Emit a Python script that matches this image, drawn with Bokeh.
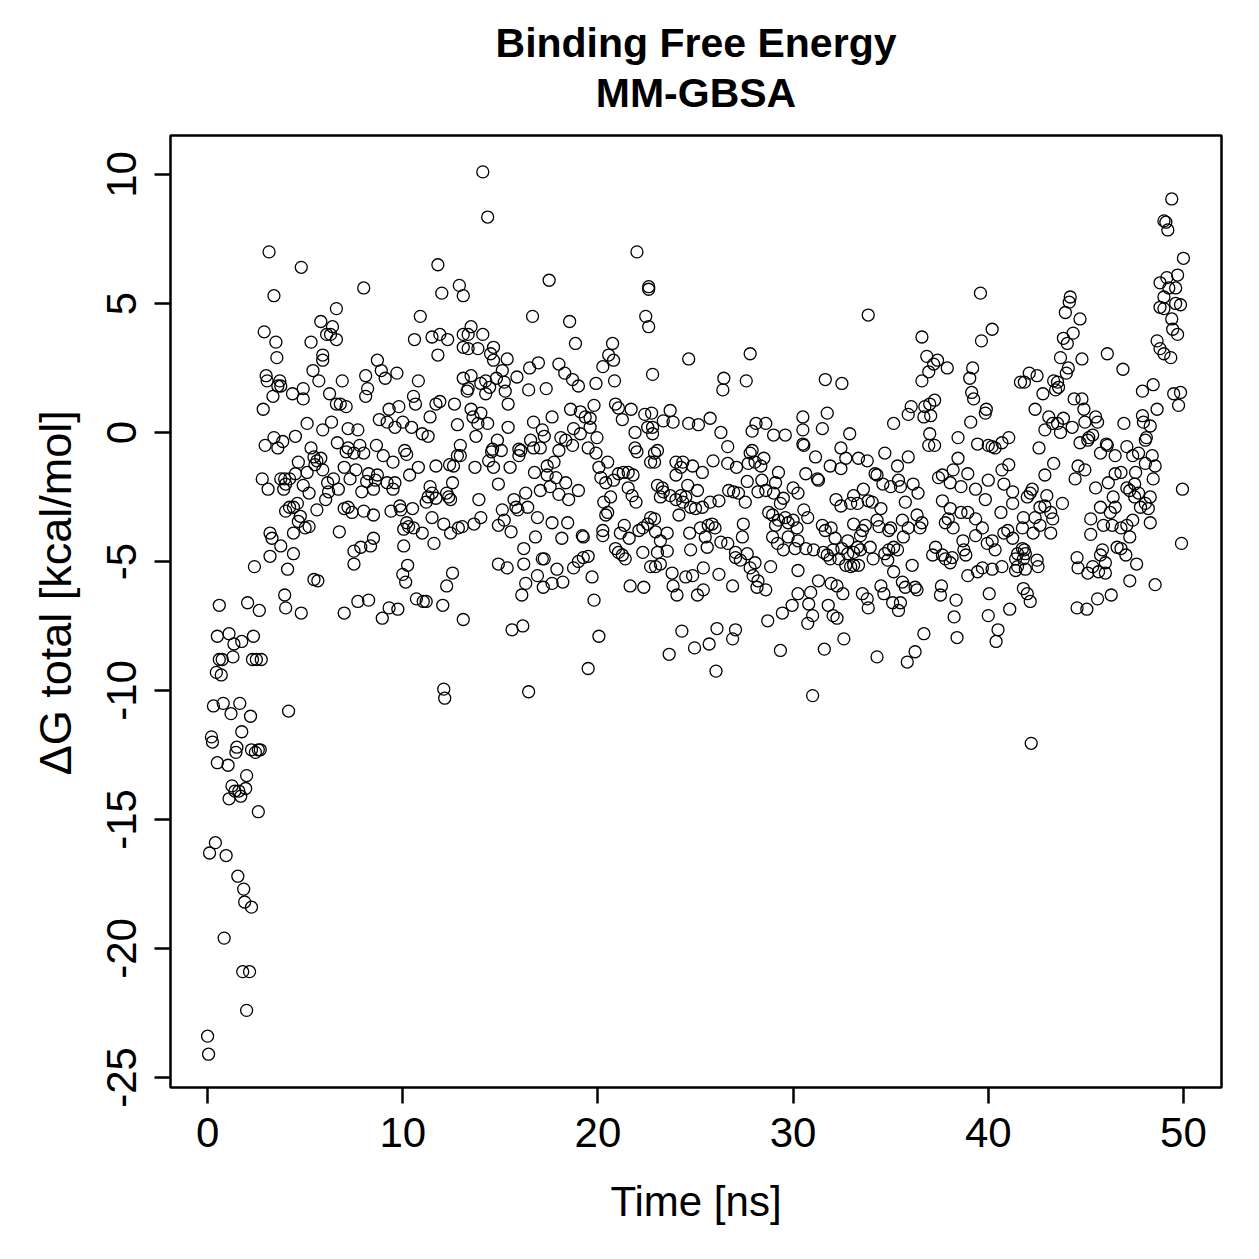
from bokeh.plotting import figure
from bokeh.models import FixedTicker, Title
from bokeh.embed import file_html
from bokeh.resources import INLINE

# MM-GBSA binding free energy per frame: time (ns) and total dG (kcal/mol),
# stored in blocks by time window / energy band.

# equilibration phase, 0 - 3.75 ns
t_start = [0.0, 0.05, 0.1, 0.2, 0.25, 0.3, 0.4, 0.45, 0.5, 0.5,
           0.6, 0.6, 0.7, 0.75, 0.8, 0.85, 0.95, 1.05, 1.1, 1.1,
           1.2, 1.25, 1.3, 1.35, 1.4, 1.45, 1.5, 1.55, 1.6, 1.65,
           1.7, 1.75, 1.75, 1.8, 1.85, 1.9, 1.95, 2.0, 2.0, 2.05,
           2.15, 2.2, 2.25, 2.25, 2.3, 2.35, 2.4, 2.45, 2.5, 2.6,
           2.6, 2.65, 2.7, 2.75, 2.8, 2.85, 2.9, 2.95, 3.0, 3.05,
           3.1, 3.15, 3.2, 3.2, 3.3, 3.35, 3.4, 3.4, 3.5, 3.55,
           3.6, 3.6, 3.7, 3.75]
g_start = [-23.4, -24.1, -16.3, -11.8, -12.0, -10.6, -15.9, -9.3, -12.8, -7.9,
           -6.7, -8.8, -9.4, -8.8, -10.5, -19.6, -16.4, -12.9, -14.2, -7.8,
           -10.9, -13.7, -8.7, -8.2, -13.9, -12.4, -12.2, -17.2, -13.9, -10.5,
           -14.1, -11.6, -8.1, -20.9, -17.7, -18.2, -13.8, -22.4, -13.3, -6.6,
           -20.9, -11.0, -18.4, -12.3, -8.8, -7.9, -5.2, -12.4, -8.8, -14.7,
           -12.3, -6.9, -12.3, -8.8, -1.8, 0.9, 3.9, -0.5, 2.2, 2.0,
           -2.2, 7.0, -3.9, -4.8, -4.1, 1.4, 5.3, -0.2, 3.5, 2.9,
           -0.6, 1.8, 2.0, 1.8]

# 4 - 13 ns, upper band
t_a = [4.8, 11.8, 8.0, 12.0, 12.9, 13.1, 6.6, 5.8, 6.4, 10.9,
       6.1, 6.3, 6.6, 5.3, 10.6, 11.5, 11.9, 12.3, 13.1, 13.1,
       11.8, 5.9, 5.9, 5.4, 8.7, 8.9, 9.1, 9.7, 5.7, 6.9,
       8.1, 8.2, 8.1, 10.8, 13.1, 4.35, 4.9, 4.9, 6.25, 6.6,
       6.8, 7.1, 9.3, 9.8, 10.55, 10.65, 11.7, 11.9, 12.65, 13.3,
       5.1, 6.35, 5.9, 7.2, 7.7, 8.8, 9.2, 9.6, 10.0, 10.45,
       11.4, 11.0, 11.3, 12.8, 4.5, 3.85, 5.3, 6.65, 7.2, 7.8,
       8.65, 10.1, 12.95]
g_a = [6.4, 6.5, 5.6, 5.4, 5.7, 5.3, 4.8, 4.3, 4.1, 4.5,
       3.8, 3.8, 3.6, 3.5, 3.6, 3.7, 3.8, 3.6, 3.8, 3.3,
       3.0, 3.0, 2.8, 2.4, 2.8, 2.4, 2.1, 2.3, 2.0, 2.0,
       2.2, 1.7, 1.4, 2.0, 2.1, 1.5, 1.7, 1.3, 1.5, 1.1,
       1.1, 1.0, 0.9, 1.0, 1.4, 1.1, 1.1, 1.2, 1.1, 1.6,
       0.35, 0.4, 0.1, 0.15, 0.1, 0.5, 0.4, 0.2, 0.4, 0.2,
       0.6, -0.05, -0.15, 0.3, -0.15, -0.35, -0.6, -0.4, -0.6, -0.5,
       -0.5, -0.7, -0.5]

# 4 - 13 ns, lower band
t_b = [7.1, 7.5, 8.0, 9.0, 9.5, 10.2, 10.8, 11.7, 12.4, 12.6,
       12.8, 12.95, 4.65, 5.45, 5.6, 5.8, 5.5, 5.1, 5.9, 7.0,
       7.6, 8.25, 8.7, 10.35, 3.75, 3.95, 4.2, 4.5, 3.9, 4.0,
       4.9, 5.2, 6.15, 6.2, 6.45, 6.7, 7.3, 7.9, 8.15, 8.5,
       8.6, 9.2, 9.5, 9.6, 11.4, 11.5, 11.3, 11.2, 12.25, 12.35,
       12.45, 12.55, 11.7, 6.05, 5.6, 4.6, 4.4, 4.2, 4.0, 7.0,
       7.2, 7.4, 8.0, 8.5, 9.4, 9.85, 9.9, 10.5, 11.5, 4.75,
       4.65, 4.4, 5.0, 5.2, 6.75, 10.2, 10.3, 10.05, 10.55, 11.0,
       12.1, 12.45, 12.85, 13.05, 3.75, 4.4, 4.1, 7.5, 7.85, 8.35,
       8.5, 7.5, 10.05, 11.6, 10.25, 10.0, 10.15, 12.55, 12.25, 5.45,
       5.65, 3.95, 4.0, 4.8, 7.0, 7.7, 8.25, 8.95, 9.3, 9.75,
       10.7, 11.05, 11.2, 12.05, 13.1, 4.15, 12.1, 12.15]
g_b = [-0.75, -0.8, -0.8, -0.9, -1.15, -0.85, -1.35, -1.3, -1.25, -1.3,
       -0.9, -0.9, -1.15, -0.95, -1.1, -1.0, -1.25, -1.55, -1.45, -1.35,
       -1.45, -1.6, -1.65, -1.65, -1.8, -1.8, -1.8, -1.6, -2.2, -2.0,
       -2.05, -2.35, -1.95, -2.3, -1.8, -2.2, -1.8, -2.3, -1.9, -2.2,
       -1.85, -1.95, -2.2, -1.95, -2.1, -2.35, -2.5, -2.7, -2.35, -2.5,
       -2.6, -1.95, -2.55, -2.6, -3.0, -2.75, -2.9, -2.9, -3.05, -2.95,
       -2.9, -3.1, -3.05, -3.2, -3.05, -2.85, -3.0, -2.95, -3.3, -3.25,
       -3.45, -3.9, -3.7, -3.65, -3.85, -3.5, -3.65, -3.75, -3.7, -3.9,
       -3.55, -3.9, -3.7, -3.65, -4.4, -4.7, -5.3, -4.6, -4.45, -4.4,
       -4.1, -5.1, -4.4, -4.3, -5.15, -5.5, -5.8, -5.45, -5.95, -5.7,
       -5.75, -6.3, -6.8, -7.0, -7.0, -6.55, -6.5, -7.2, -6.8, -6.85,
       -6.45, -6.55, -6.55, -6.7, -7.25, -10.8, -9.95, -10.3]

# 13 - 23 ns, upper band
t_c = [14.1, 14.35, 22.0, 17.5, 22.6, 22.6, 16.65, 18.55, 22.45, 22.6,
       18.85, 20.75, 20.55, 20.8, 20.25, 20.85, 13.5, 14.1, 13.35, 13.35,
       13.85, 14.65, 14.5, 14.65, 15.35, 15.1, 15.85, 16.5, 16.95, 18.0,
       18.3, 18.7, 19.0, 19.9, 13.5, 13.35, 14.0, 14.25, 14.45, 14.25,
       14.8, 15.2, 15.25, 16.45, 17.35, 15.4, 13.5, 14.0, 13.6, 13.85,
       14.35, 13.75, 15.4, 16.7, 17.15, 17.65, 17.25, 18.6, 19.1, 19.35,
       19.6, 19.8, 18.75, 19.1, 19.6, 19.95, 20.9, 21.05, 21.25, 21.7,
       22.4, 21.9, 22.55, 14.85, 16.55, 18.1, 18.35, 18.7, 14.6, 15.95,
       17.05, 19.5, 21.9]
g_c = [10.1, 8.35, 7.0, 5.9, 5.65, 5.55, 4.5, 4.3, 4.5, 4.1,
       3.45, 3.45, 3.0, 2.8, 2.55, 2.0, 4.1, 3.8, 3.8, 3.25,
       3.25, 3.3, 3.05, 2.8, 2.85, 2.4, 2.15, 2.5, 2.7, 2.65,
       2.3, 2.05, 1.8, 1.9, 2.2, 1.7, 1.9, 2.0, 1.75, 1.5,
       2.1, 1.95, 1.6, 1.65, 1.7, 1.1, 0.9, 0.75, 0.6, 0.35,
       0.35, -0.15, 0.2, 0.4, 0.1, 0.6, -0.15, 0.9, 0.8, 0.6,
       0.55, 1.05, 0.15, -0.05, 0.2, -0.2, 1.1, 0.95, 0.5, 0.9,
       0.7, 0.0, 0.2, -0.3, -0.3, -0.2, -0.3, -0.5, -0.65, -0.65,
       -0.6, -0.6, -0.6]

# 13 - 23 ns, lower band
t_d = [16.05, 15.95, 16.7, 18.0, 19.9, 22.0, 22.7, 14.55, 14.4, 14.65,
       13.7, 15.5, 14.9, 15.05, 16.75, 17.4, 17.75, 17.4, 17.85, 18.35,
       19.0, 18.5, 18.0, 17.55, 17.05, 20.05, 20.5, 20.15, 20.4, 20.8,
       21.05, 21.3, 21.55, 21.8, 21.55, 21.75, 21.95, 20.65, 20.3, 20.5,
       20.4, 13.9, 15.1, 15.7, 15.8, 15.9, 16.3, 16.4, 16.9, 17.65,
       18.45, 14.0, 13.65, 14.9, 15.2, 15.55, 16.8, 18.15, 19.2, 19.25,
       20.25, 20.25, 21.15, 21.35, 21.6, 22.1, 22.3, 22.55, 22.7, 16.2,
       14.9, 15.35, 16.2, 17.15, 17.25, 17.9, 16.9, 16.3, 17.2, 17.65,
       18.2, 16.1, 18.75, 19.0, 19.25, 19.5, 19.7, 19.8, 20.9, 21.05,
       21.25, 21.4, 22.3, 22.7, 21.65, 22.35, 15.6, 16.15, 20.05, 19.5,
       16.45]
g_d = [-0.7, -0.9, -0.6, -0.7, -0.8, -0.75, -1.15, -0.75, -1.1, -1.35,
       -1.35, -1.35, -2.0, -0.7, -1.55, -1.3, -1.15, -1.65, -1.75, -1.95,
       -2.25, -2.6, -2.4, -2.1, -2.25, -1.35, -1.15, -1.75, -1.95, -1.85,
       -1.6, -1.55, -1.55, -1.65, -2.15, -2.45, -2.7, -2.5, -2.7, -3.1,
       -3.2, -2.6, -3.0, -2.6, -2.9, -3.0, -2.35, -2.9, -3.3, -3.5,
       -3.5, -3.3, -3.55, -3.6, -3.4, -3.85, -4.05, -4.1, -4.0, -4.05,
       -3.8, -4.0, -3.9, -3.6, -4.1, -3.8, -3.7, -3.55, -3.3, -4.5,
       -5.1, -5.25, -5.1, -4.9, -4.9, -5.3, -5.55, -5.85, -6.0, -5.85,
       -5.8, -6.3, -5.25, -5.0, -4.85, -4.8, -5.6, -6.5, -4.5, -4.65,
       -4.75, -4.9, -4.65, -5.2, -5.95, -6.0, -7.65, -7.5, -7.9, -9.15,
       -10.05]

# 22.5 - 32 ns, upper band
t_e = [24.65, 27.8, 26.45, 26.4, 27.6, 31.65, 22.8, 23.7, 23.35, 23.85,
       24.65, 25.15, 25.75, 26.3, 27.9, 28.1, 28.6, 29.0, 29.6, 30.5,
       30.5, 30.5, 31.5, 31.75, 22.75, 22.8, 22.8, 23.05, 26.65, 27.9]
g_e = [2.85, 3.05, 2.1, 1.65, 2.0, 2.05, 2.25, 0.85, 0.45, 0.4,
       0.35, 0.3, 0.55, 0.0, 0.05, 0.35, 0.35, -0.1, -0.1, 0.6,
       0.1, -0.45, 0.15, 0.75, 0.75, 0.2, -0.05, -0.7, -0.55, -0.7]

# 22.5 - 32 ns, lower band
t_f = [22.9, 22.9, 24.0, 24.35, 24.25, 24.0, 24.85, 25.35, 25.9, 26.65,
       27.1, 27.7, 27.8, 28.05, 28.35, 28.5, 27.65, 28.4, 28.2, 28.6,
       29.1, 29.25, 29.0, 29.5, 29.35, 30.0, 30.25, 30.65, 31.15, 31.25,
       31.3, 30.55, 31.9, 23.05, 23.3, 23.35, 23.2, 23.7, 24.0, 24.25,
       24.5, 24.35, 24.6, 25.1, 24.75, 25.0, 25.35, 25.75, 26.2, 26.7,
       26.95, 27.2, 27.55, 22.9, 22.95, 23.55, 23.2, 23.05, 23.55, 23.2,
       22.95, 24.15, 24.7, 25.25, 25.65, 25.85, 26.0, 25.5, 25.6, 24.75,
       26.3, 26.65, 27.05, 27.45, 27.4, 27.05, 27.3, 27.65, 28.05, 28.75,
       28.95, 29.1, 29.25, 29.6, 29.75, 30.0, 30.2, 30.75, 30.55, 31.5,
       31.65, 28.95, 29.2, 29.5, 29.75, 30.25, 30.1, 30.65, 31.05, 31.55,
       31.75, 31.9, 32.05, 32.15, 31.95, 23.8, 23.85, 24.05, 24.5, 24.85,
       25.4, 25.4, 25.1, 26.2, 26.9, 27.8, 27.95, 28.2, 28.6, 28.15,
       28.85, 30.25, 31.3, 31.95, 30.9, 30.25, 30.8, 29.95, 29.45, 28.7,
       31.0, 30.75, 31.8, 32.05, 24.3, 23.65, 24.95, 25.7, 26.1, 27.05,
       26.9, 26.05, 29.35, 31.6, 31.0]
g_f = [-0.8, -1.15, -1.15, -1.15, -1.35, -1.65, -1.3, -1.55, -1.1, -1.2,
       -1.35, -1.2, -0.8, -1.15, -1.3, -1.0, -1.9, -1.85, -2.3, -2.25,
       -1.95, -1.55, -2.35, -2.55, -2.75, -2.15, -2.35, -1.6, -0.95, -1.8,
       -1.85, -0.5, -1.3, -2.05, -2.15, -2.3, -2.5, -2.45, -2.6, -2.45,
       -2.5, -2.7, -2.05, -2.25, -2.9, -2.95, -2.9, -2.7, -2.65, -2.25,
       -2.3, -2.35, -2.7, -3.35, -3.85, -3.9, -4.2, -4.65, -4.6, -5.1,
       -5.2, -3.2, -3.9, -3.7, -3.6, -3.55, -3.7, -4.05, -4.45, -4.55,
       -4.25, -4.3, -4.65, -3.55, -4.05, -4.85, -4.95, -4.7, -5.05, -3.1,
       -3.2, -3.6, -3.4, -3.3, -3.5, -3.4, -3.7, -3.3, -3.0, -3.6,
       -3.8, -4.05, -4.3, -4.55, -4.05, -4.2, -4.5, -4.5, -4.55, -4.65,
       -4.75, -4.9, -4.55, -4.1, -3.7, -5.45, -5.95, -6.3, -5.6, -5.55,
       -5.25, -6.1, -6.3, -5.5, -5.95, -5.25, -5.55, -5.75, -6.1, -6.0,
       -5.2, -5.35, -5.75, -5.85, -6.2, -6.25, -6.65, -6.7, -7.0, -7.3,
       -7.1, -7.4, -6.7, -7.1, -7.7, -8.6, -8.35, -8.2, -7.6, -7.65,
       -8.0, -9.25, -8.45, -8.4, -10.2]

# 32 - 41.7 ns, upper band
t_g = [39.6, 33.85, 36.6, 40.2, 39.65, 36.85, 37.4, 37.2, 36.95, 37.9,
       36.6, 39.2, 39.05, 39.15, 39.25, 41.65, 32.5, 36.05, 35.9, 36.75,
       37.0, 37.25, 36.7, 37.05, 35.15, 32.9, 39.9, 39.85, 39.1, 38.45,
       37.0, 36.95, 37.25, 39.45, 40.0, 40.2, 40.7, 41.05, 32.45, 34.7]
g_g = [5.4, 4.55, 3.7, 4.0, 3.55, 2.95, 2.8, 2.65, 2.35, 2.5,
       2.0, 2.5, 2.1, 1.55, 1.3, 1.95, 1.9, 1.0, 0.7, 1.0,
       1.1, 1.25, 0.6, 0.65, 0.35, -0.05, 0.9, 0.75, 0.4, -0.2,
       -0.05, -0.5, -0.5, -0.45, -0.5, -0.55, -0.4, -0.2, -0.6, -0.8]

# 32 - 41.7 ns, lower band
t_h = [32.7, 32.45, 33.35, 33.8, 35.35, 35.9, 38.45, 38.2, 38.95, 37.45,
       37.65, 38.05, 38.6, 39.35, 40.0, 40.8, 40.7, 41.05, 39.85, 41.25,
       41.25, 40.65, 40.35, 32.45, 32.2, 33.1, 32.95, 33.3, 33.6, 33.85,
       34.05, 34.2, 34.3, 34.6, 34.5, 35.0, 35.4, 35.5, 35.75, 36.15,
       36.4, 36.35, 36.6, 36.5, 35.6, 35.9, 35.65, 35.0, 34.9, 34.3,
       34.4, 33.7, 33.55, 33.45, 33.1, 32.8, 32.5, 32.8, 33.1, 33.3,
       33.45, 32.35, 32.7, 32.95, 33.1, 33.35, 33.95, 34.1, 34.7, 34.9,
       34.85, 35.15, 35.35, 35.15, 36.1, 37.3, 37.15, 37.65, 37.8, 38.05,
       38.15, 38.85, 38.75, 38.7, 38.6, 38.95, 38.05, 37.95, 37.8, 38.2,
       37.65, 39.35, 39.7, 39.35, 39.95, 40.2, 40.35, 40.8, 41.0, 41.25,
       41.5, 41.5, 41.4, 38.95, 39.45, 39.7, 40.2, 40.7, 41.4, 32.25,
       32.55, 33.55, 33.8, 33.85, 34.5, 34.65, 35.1, 35.5, 35.4, 35.6,
       35.75, 36.25, 36.35, 37.6, 37.55, 38.35, 38.25, 38.4, 36.7, 36.25,
       35.85, 34.3, 32.6, 32.25, 40.05, 40.0, 41.1, 40.5, 40.4]
g_h = [-1.0, -1.4, -1.0, -1.1, -1.3, -0.95, -1.0, -1.45, -1.6, -1.75,
       -1.65, -1.95, -2.1, -2.2, -1.85, -2.0, -1.45, -1.25, -2.6, -2.3,
       -2.75, -3.1, -0.6, -2.85, -2.6, -2.45, -2.75, -2.75, -2.2, -2.65,
       -2.7, -1.6, -1.65, -2.0, -2.95, -2.1, -1.85, -2.1, -2.7, -2.0,
       -2.35, -3.2, -3.5, -3.7, -3.4, -3.7, -4.05, -3.7, -3.8, -3.4,
       -3.65, -3.6, -3.8, -4.0, -3.55, -4.2, -4.5, -4.7, -4.65, -4.45,
       -4.55, -4.9, -5.15, -5.2, -5.15, -5.15, -4.45, -4.9, -4.7, -4.55,
       -4.95, -4.45, -4.55, -5.4, -5.15, -4.45, -4.75, -4.75, -4.9, -5.05,
       -4.85, -4.75, -4.55, -4.2, -3.1, -3.1, -2.95, -3.35, -3.5, -3.7,
       -2.65, -3.35, -3.7, -4.0, -4.3, -4.2, -4.55, -3.9, -3.8, -4.1,
       -4.7, -5.2, -4.9, -5.55, -5.4, -5.25, -5.3, -5.2, -5.35, -5.95,
       -6.25, -6.25, -6.45, -6.8, -5.95, -6.25, -6.6, -6.6, -6.9, -5.8,
       -6.0, -6.0, -6.1, -5.95, -6.3, -6.5, -7.15, -7.95, -7.8, -8.5,
       -8.9, -8.7, -8.0, -7.2, -6.25, -7.1, -6.85, -7.65, -8.1]

# 41.7 - 50 ns, upper band
t_i = [49.4, 49.0, 49.1, 49.2, 50.0, 44.2, 44.15, 43.95, 44.7, 44.35,
       43.85, 44.05, 43.7, 44.8, 44.1, 44.0, 46.1, 46.9, 48.8, 49.15,
       49.7, 49.6, 49.25, 49.0, 48.8, 49.0, 49.6, 49.85, 49.4, 49.45,
       49.7, 48.65, 48.8, 49.0, 49.35, 42.1, 42.5, 41.85, 43.35, 43.55,
       43.6, 43.45, 42.8, 42.4, 43.1, 42.9, 43.3, 43.55, 43.85, 43.7,
       44.3, 44.4, 44.8, 44.9, 44.95, 45.5, 45.6, 45.15, 45.35, 44.7,
       47.9, 48.45, 48.65, 47.9, 47.95, 48.3, 48.1, 46.95, 46.05, 47.1,
       49.5, 49.85, 49.75]
g_i = [9.05, 8.2, 8.15, 7.85, 6.75, 5.25, 5.05, 4.65, 4.4, 3.85,
       3.65, 3.45, 2.9, 2.85, 2.5, 2.3, 3.05, 2.45, 5.8, 6.0,
       6.1, 5.6, 5.6, 5.25, 4.85, 4.8, 5.0, 4.95, 4.4, 4.0,
       3.8, 3.55, 3.25, 3.05, 2.9, 2.3, 2.2, 1.95, 2.0, 1.95,
       1.75, 1.65, 1.5, 0.9, 0.6, 0.1, 0.35, 0.35, 0.55, 0.0,
       0.2, 1.3, 1.3, 0.9, 0.4, 0.6, 0.4, -0.2, -0.1, -0.4,
       1.6, 1.85, 0.9, 0.65, 0.4, 0.25, -0.2, 0.35, -0.45, -0.55,
       1.5, 1.55, 1.05]

# 41.7 - 50 ns, lower band
t_j = [42.6, 43.35, 42.9, 42.25, 42.0, 42.15, 43.0, 43.8, 42.65, 42.9,
       43.2, 43.3, 42.4, 41.8, 41.75, 42.65, 42.3, 43.2, 41.75, 41.85,
       41.9, 41.8, 42.5, 42.55, 41.9, 41.8, 42.0, 42.15, 45.1, 45.75,
       46.1, 46.5, 47.4, 47.7, 48.05, 48.4, 48.55, 48.05, 47.55, 46.8,
       46.5, 46.15, 44.6, 44.95, 44.45, 45.5, 47.1, 47.25, 47.5, 47.7,
       47.5, 48.3, 48.45, 48.05, 48.2, 47.8, 46.4, 46.5, 46.25, 45.75,
       45.25, 45.9, 46.35, 46.8, 47.1, 47.4, 47.25, 48.3, 45.25, 45.85,
       45.75, 46.0, 46.6, 46.8, 47.05, 47.6, 47.25, 48.55, 44.55, 44.6,
       45.1, 45.35, 45.65, 46.0, 45.6, 46.3, 44.55, 45.05, 49.95, 49.9,
       42.2]
g_j = [-0.6, -1.2, -1.65, -2.2, -2.5, -2.35, -2.45, -2.75, -2.9, -2.85,
       -3.1, -3.35, -3.3, -3.3, -3.7, -3.6, -3.9, -3.9, -4.5, -4.55,
       -4.7, -4.9, -4.95, -5.2, -5.3, -6.05, -6.25, -6.55, -0.3, -0.8,
       -0.5, -0.9, -0.9, -0.8, -0.3, -0.9, -1.3, -1.2, -1.55, -1.55,
       -1.6, -1.95, -1.3, -1.45, -1.8, -2.15, -2.15, -2.25, -2.0, -2.35,
       -2.5, -2.5, -1.8, -2.75, -2.95, -2.9, -2.5, -2.9, -3.1, -2.9,
       -3.35, -3.6, -3.6, -3.7, -3.6, -3.4, -4.05, -3.5, -3.95, -4.55,
       -4.75, -5.05, -4.45, -4.5, -4.75, -5.1, -5.75, -5.9, -4.85, -5.25,
       -5.45, -5.2, -5.4, -5.45, -6.45, -6.3, -6.8, -6.85, -2.2, -4.3,
       -12.05]

blocks = [("start", t_start, g_start), ("a", t_a, g_a), ("b", t_b, g_b),
          ("c", t_c, g_c), ("d", t_d, g_d), ("e", t_e, g_e), ("f", t_f, g_f),
          ("g", t_g, g_g), ("h", t_h, g_h), ("i", t_i, g_i), ("j", t_j, g_j)]

time_ns, dg_total = [], []
for name, t, g in blocks:
    if len(t) != len(g):
        raise ValueError(f"block {name}: {len(t)} times vs {len(g)} energies")
    time_ns.extend(t)
    dg_total.extend(g)

x_ticks = [0, 10, 20, 30, 40, 50]
y_ticks = [-25, -20, -15, -10, -5, 0, 5, 10]

FONT = "Liberation Sans"

p = figure(width=1259, height=1259,
           x_range=(-1.9, 51.95), y_range=(-25.39, 11.51),
           output_backend="svg", toolbar_location=None,
           min_border_left=170, min_border_right=38,
           min_border_top=135, min_border_bottom=172,
           background_fill_color="white", border_fill_color="white")

p.scatter(time_ns, dg_total, marker="circle", size=12,
          fill_color=None, line_color="black", line_width=1.3)

# two-line title: the figure's own title is the outermost line; added
# titles stack outward from the frame (thin spacer first, then subtitle)
p.title.text = "Binding Free Energy"
p.title.align = "center"
p.title.text_font = FONT
p.title.text_font_size = "41px"
p.title.text_font_style = "bold"
p.title.text_color = "black"
p.title.standoff = 0
p.add_layout(Title(text=" ", align="center", text_font=FONT,
                   text_font_size="1px", standoff=14), "above")
p.add_layout(Title(text="MM-GBSA", align="center", text_font=FONT,
                   text_font_size="41px", text_font_style="bold",
                   text_color="black", standoff=5), "above")

p.xgrid.grid_line_color = None
p.ygrid.grid_line_color = None
p.outline_line_color = "black"
p.outline_line_width = 2.5

p.xaxis.ticker = FixedTicker(ticks=x_ticks)
p.yaxis.ticker = FixedTicker(ticks=y_ticks)
p.yaxis.major_label_orientation = "vertical"
# plain hyphen-minus on negative tick labels
p.yaxis.major_label_overrides = {v: str(v) for v in y_ticks}

for ax in (p.xaxis, p.yaxis):
    ax.axis_line_color = None
    ax.major_tick_line_color = "black"
    ax.major_tick_line_width = 2.5
    ax.major_tick_out = 16
    ax.major_tick_in = 0
    ax.minor_tick_line_color = None
    ax.major_label_text_font = FONT
    ax.major_label_text_font_size = "42px"
    ax.major_label_text_color = "black"
    ax.axis_label_text_font = FONT
    ax.axis_label_text_font_style = "normal"
    ax.axis_label_text_color = "black"

p.xaxis.axis_label_text_font_size = "42px"
p.yaxis.axis_label_text_font_size = "45px"
p.xaxis.major_label_standoff = 14
p.yaxis.major_label_standoff = 18
p.xaxis.axis_label = "Time [ns]"
# leading no-break spaces shift the centred label towards the top
p.yaxis.axis_label = "\u00a0\u00a0\u00a0ΔG total [kcal/mol]"
p.xaxis.axis_label_standoff = 28
p.yaxis.axis_label_standoff = 24

open("out.html", "w").write(file_html(p, INLINE))
